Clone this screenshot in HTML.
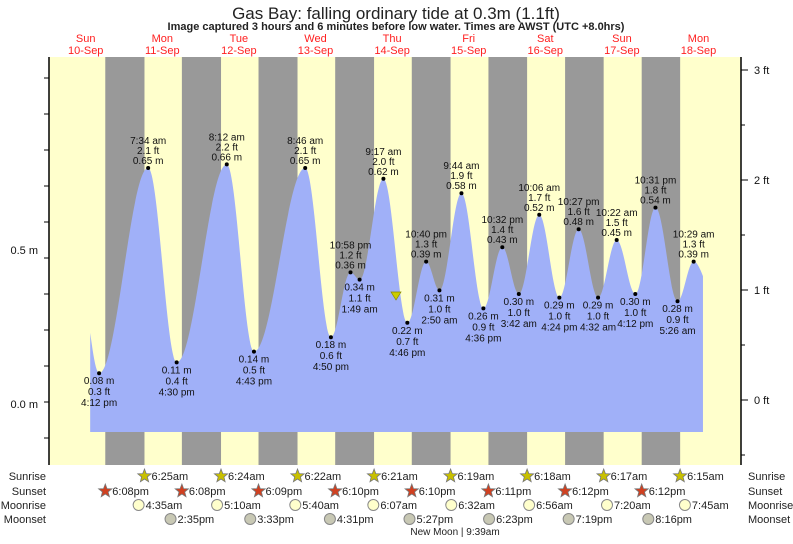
<!DOCTYPE html>
<html><head><meta charset="utf-8"><style>
body{margin:0;background:#fff;width:793px;height:539px;overflow:hidden;font-family:"Liberation Sans",sans-serif}
svg text{font-family:"Liberation Sans",sans-serif}
</style></head><body>
<svg id="c" width="793" height="539" xmlns="http://www.w3.org/2000/svg">
<text x="396" y="19" font-size="17" text-anchor="middle" fill="#222">Gas Bay: falling  ordinary tide at 0.3m (1.1ft)</text>
<text x="396" y="30" font-size="11" font-weight="bold" text-anchor="middle" fill="#222">Image captured 3 hours and 6 minutes before low water. Times are AWST (UTC +8.0hrs)</text>
<g id="bg"></g><g id="tide"></g><g id="axes"></g><g id="labels"></g><g id="astro"></g>
</svg>
<script>
const days=["Sun","Mon","Tue","Wed","Thu","Fri","Sat","Sun","Mon"];
const dates=["10-Sep","11-Sep","12-Sep","13-Sep","14-Sep","15-Sep","16-Sep","17-Sep","18-Sep"];
const exTimes=[16.2,31.57,40.5,56.2,64.72,80.77,88.83,94.97,97.82,105.28,112.77,118.67,122.83,129.73,136.6,142.53,147.7,154.1,160.4,166.45,172.53,178.37,184.2,190.52,197.43,202.48];
const exHeights=[0.08,0.65,0.11,0.66,0.14,0.65,0.18,0.36,0.34,0.62,0.22,0.39,0.31,0.58,0.26,0.43,0.30,0.52,0.29,0.48,0.29,0.45,0.30,0.54,0.28,0.39];
const exFeet=["0.3 ft","2.1 ft","0.4 ft","2.2 ft","0.5 ft","2.1 ft","0.6 ft","1.2 ft","1.1 ft","2.0 ft","0.7 ft","1.3 ft","1.0 ft","1.9 ft","0.9 ft","1.4 ft","1.0 ft","1.7 ft","1.0 ft","1.6 ft","1.0 ft","1.5 ft","1.0 ft","1.8 ft","0.9 ft","1.3 ft"];
const exLabels=["4:12 pm","7:34 am","4:30 pm","8:12 am","4:43 pm","8:46 am","4:50 pm","10:58 pm","1:49 am","9:17 am","4:46 pm","10:40 pm","2:50 am","9:44 am","4:36 pm","10:32 pm","3:42 am","10:06 am","4:24 pm","10:27 pm","4:32 am","10:22 am","4:12 pm","10:31 pm","5:26 am","10:29 am"];
const sunrise=["6:25am","6:24am","6:22am","6:21am","6:19am","6:18am","6:17am","6:15am"];
const sunset=["6:08pm","6:08pm","6:09pm","6:10pm","6:10pm","6:11pm","6:12pm","6:12pm"];
const moonrise=["4:35am","5:10am","5:40am","6:07am","6:32am","6:56am","7:20am","7:45am"];
const moonset=["2:35pm","3:33pm","4:31pm","5:27pm","6:23pm","7:19pm","8:16pm"];
const startT=13.4,endT=205.4;
const NS="http://www.w3.org/2000/svg";
const X=t=>47.4+t*76.6/24;
const Y=h=>402-h*360;
function hm(s){const m=s.match(/(\d+):(\d+)\s*(am|pm)/);let h=+m[1]%12;if(m[3]=="pm")h+=12;return h+ +m[2]/60;}
function el(tag,a,p,txt){const e=document.createElementNS(NS,tag);for(const k in a)e.setAttribute(k,a[k]);if(txt!==undefined)e.textContent=txt;document.getElementById(p).appendChild(e);return e;}
let e=el("rect",{x:49,y:57,width:692,height:408,fill:"#ffffcc"},"bg");


for(let d=0;d<8;d++){
 const x1=X(d*24+hm(sunset[d])),x2=X((d+1)*24+hm(sunrise[d]));
 e=el("rect",{x:x1,y:57,width:x2-x1,height:408,fill:"#999999"},"bg");
 
 
}
const T=exTimes,H=exHeights;
function hAt(t){
 if(t<=T[0]){const f=Math.min(1,(T[0]-t)/6);return H[0]+(0.33-H[0])*(1-Math.cos(Math.PI*f))/2;}
 for(let i=0;i<T.length-1;i++){if(t<=T[i+1]){const f=(t-T[i])/(T[i+1]-T[i]);return H[i]+(H[i+1]-H[i])*(1-Math.cos(Math.PI*f))/2;}}
 const f=Math.min(1,(t-T[T.length-1])/6.2);return H[H.length-1]-(H[H.length-1]-0.3)*(1-Math.cos(Math.PI*f))/2;
}
let d="M"+X(startT)+",432";
for(let t=startT;t<=endT;t+=0.25)d+=" L"+X(t).toFixed(1)+","+Y(hAt(t)).toFixed(1);
d+=" L"+X(endT)+","+Y(hAt(endT)).toFixed(1)+" L"+X(endT)+",432 Z";
e=el("path",{d:d,fill:"#a0b0f8"},"tide");


function lbl(t,h,ft,lab,high){
 const x=X(t),y=Y(h);
 e=el("circle",{cx:x,cy:y,r:2,fill:"#000"},"labels");
 
 
 const lines=high?[lab,ft,h.toFixed(2)+" m"]:[h.toFixed(2)+" m",ft,lab];
 const y0=high?y-24:y+11;
 const sp=high?10:11;
 lines.forEach((s,i)=>{e=el("text",{x:x,y:y0+i*sp,"font-size":10,"text-anchor":"middle",fill:"#111"},"labels",s);
 
 });
}
for(let i=0;i<exTimes.length;i++){const hi=(i>0&&exHeights[i]>exHeights[i-1]);lbl(exTimes[i],exHeights[i],exFeet[i],exLabels[i],hi);}
e=el("polygon",{points:"391,292 401,292 396,300",fill:"#cccc00",stroke:"#888800","stroke-width":0.7},"labels");


for(let i=0;i<9;i++){const x=X(i*24+12);
 e=el("text",{x:x,y:42,"font-size":11,"text-anchor":"middle",fill:"#ff2020"},"axes",days[i]);
 
 
 e=el("text",{x:x,y:54,"font-size":11,"text-anchor":"middle",fill:"#ff2020"},"axes",dates[i]);
 
 }
e=el("line",{x1:49,y1:57,x2:49,y2:465,stroke:"#000","stroke-width":1.5},"axes");


e=el("line",{x1:741,y1:57,x2:741,y2:465,stroke:"#000","stroke-width":1.5},"axes");


for(let k=-1;k<=9;k++){const y=Y(k/10);e=el("line",{x1:44,y1:y,x2:49,y2:y,stroke:"#000"},"axes");
 
 }
[["0.5 m",250],["0.0 m",404]].forEach(a=>{e=el("text",{x:38,y:a[1]+4,"font-size":11,"text-anchor":"end",fill:"#111"},"axes",a[0]);
 
 });
for(let k=-1;k<=6;k++){const y=400-k*55;e=el("line",{x1:741,y1:y,x2:k%2==0?748:745,y2:y,stroke:"#000"},"axes");
 
 }
for(let k=0;k<=3;k++){e=el("text",{x:754,y:400-k*110+4,"font-size":11,fill:"#111"},"axes",k+" ft");
 
 }
const rows=[["Sunrise",476],["Sunset",491],["Moonrise",505],["Moonset",519]];
rows.forEach(r=>{e=el("text",{x:46,y:r[1]+4,"font-size":11,"text-anchor":"end",fill:"#222"},"astro",r[0]);
 
 
 e=el("text",{x:748,y:r[1]+4,"font-size":11,fill:"#222"},"astro",r[0]);
 
 });
function star(cx,cy,fill,stroke){let p=[];for(let i=0;i<10;i++){const r=i%2?3:7,a=-Math.PI/2+i*Math.PI/5;p.push((cx+r*Math.cos(a)).toFixed(1)+","+(cy+r*Math.sin(a)).toFixed(1));}
 return el("polygon",{points:p.join(" "),fill:fill,stroke:stroke,"stroke-width":0.8},"astro");}
function item(t,y,txt,kind){const x=X(t);let s;
 if(kind=="sr")s=star(x,y,"#c8c000","#777");else if(kind=="ss")s=star(x,y,"#d04020","#777");
 else s=el("circle",{cx:x,cy:y,r:5.5,fill:kind=="mr"?"#ffffcc":"#c8c8b4",stroke:"#888"},"astro");
 
 
 e=el("text",{x:x+7,y:y+4,"font-size":11,fill:"#222"},"astro",txt);
 
 }
sunrise.forEach((s,i)=>item((i+1)*24+hm(s),476,s,"sr"));
sunset.forEach((s,i)=>item(i*24+hm(s),491,s,"ss"));
moonrise.forEach((s,i)=>item((i+1)*24+hm(s),505,s,"mr"));
moonset.forEach((s,i)=>item((i+1)*24+hm(s),519,s,"ms"));
e=el("text",{x:455,y:535,"font-size":10,"text-anchor":"middle",fill:"#222"},"astro","New Moon | 9:39am");


</script>
</body></html>
